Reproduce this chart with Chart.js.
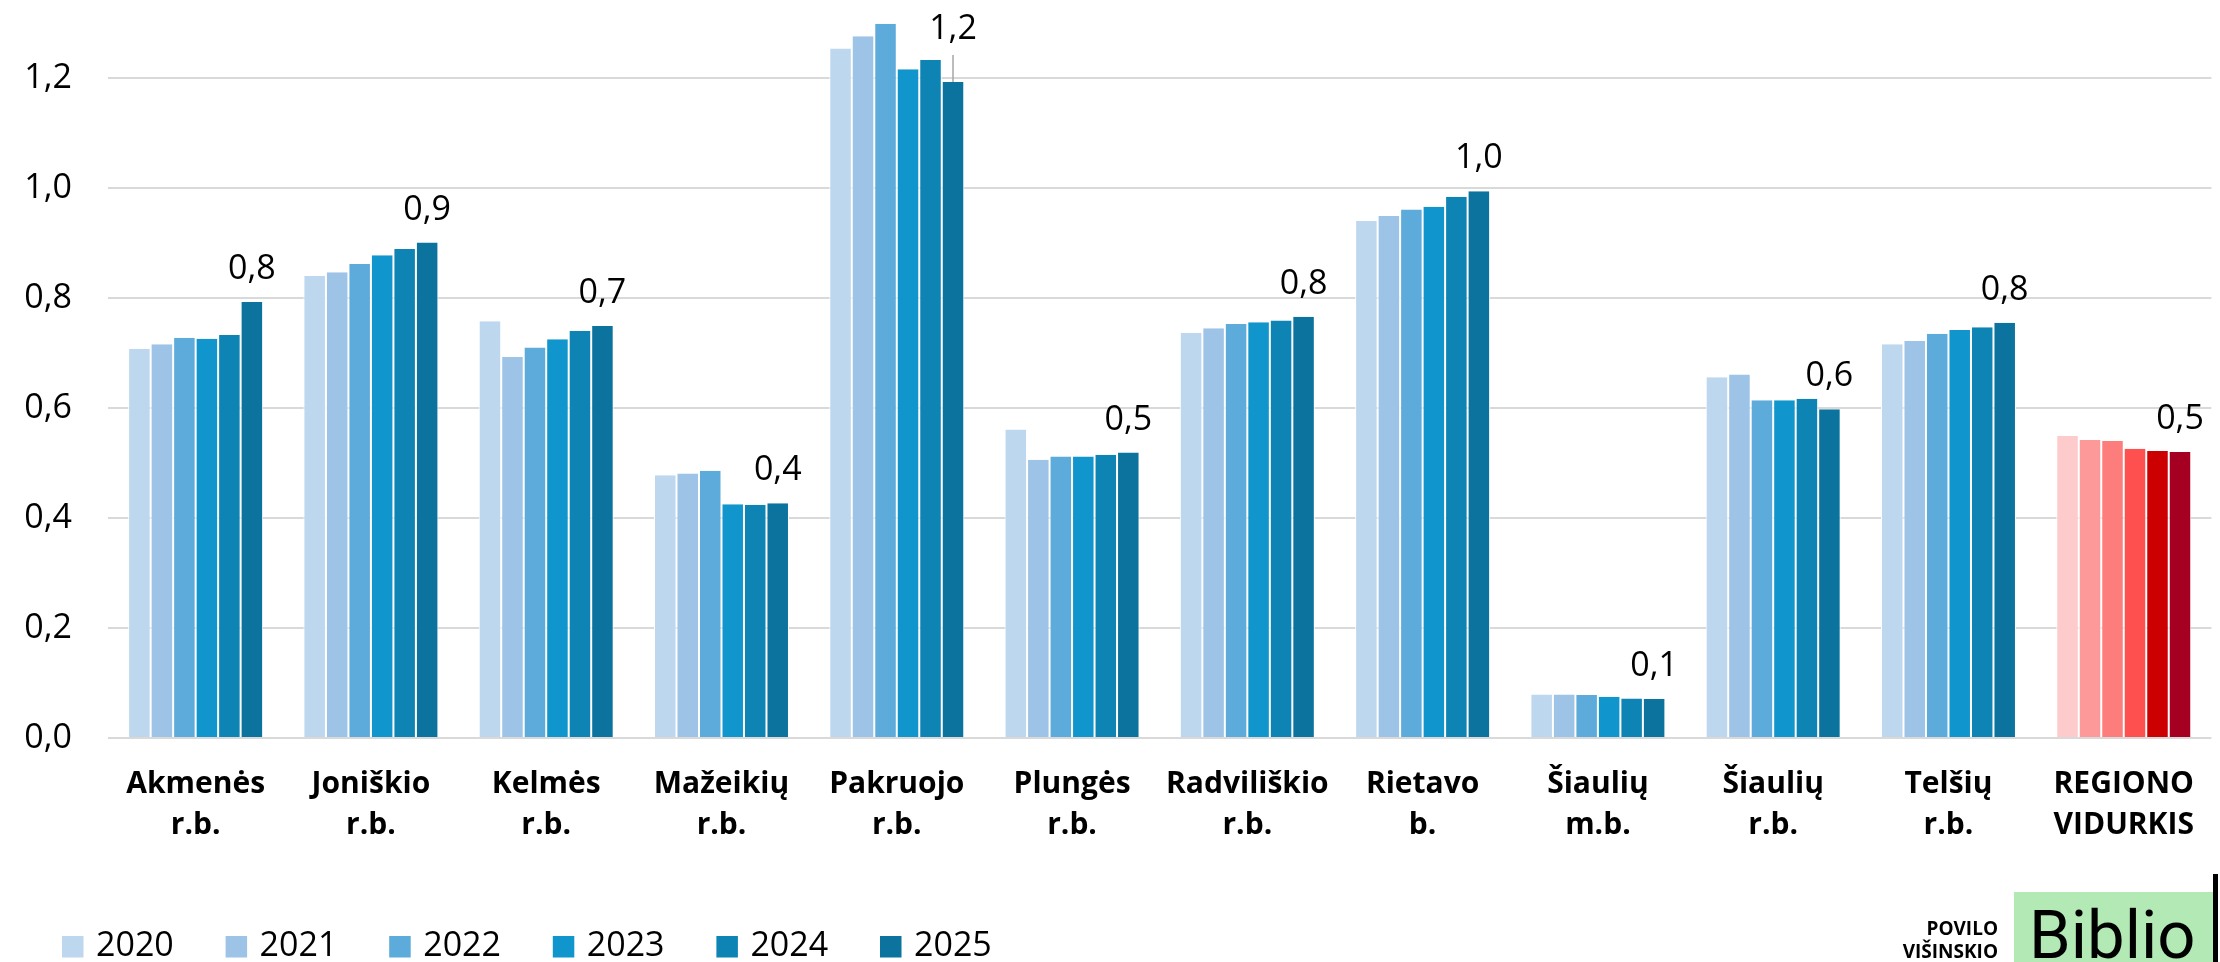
<!DOCTYPE html>
<html>
<head>
<meta charset="utf-8">
<script src="https://cdn.jsdelivr.net/npm/chart.js@4.4.0/dist/chart.umd.min.js"></script>
<style>
  html, body { margin: 0; padding: 0; background: #fff; }
  #wrap { width: 2220px; height: 962px; }
</style>
</head>
<body>
<div id="wrap"><canvas id="chart" width="2220" height="962"></canvas></div>
<script>
var categories = [
    ['Akmenės', 'r.b.'], ['Joniškio', 'r.b.'], ['Kelmės', 'r.b.'], ['Mažeikių', 'r.b.'],
    ['Pakruojo', 'r.b.'], ['Plungės', 'r.b.'], ['Radviliškio', 'r.b.'], ['Rietavo', 'b.'],
    ['Šiaulių', 'm.b.'], ['Šiaulių', 'r.b.'], ['Telšių', 'r.b.'], ['REGIONO', 'VIDURKIS']
];
var years = ['2020', '2021', '2022', '2023', '2024', '2025'];

var values2020 = [0.708, 0.840, 0.758, 0.478, 1.254, 0.561, 0.737, 0.940, 0.079, 0.656, 0.716, 0.549];
var values2021 = [0.716, 0.847, 0.693, 0.481, 1.276, 0.506, 0.745, 0.949, 0.079, 0.661, 0.722, 0.542];
var values2022 = [0.728, 0.862, 0.710, 0.486, 1.299, 0.512, 0.753, 0.961, 0.078, 0.614, 0.735, 0.540];
var values2023 = [0.726, 0.878, 0.725, 0.425, 1.216, 0.512, 0.756, 0.966, 0.075, 0.614, 0.742, 0.526];
var values2024 = [0.733, 0.889, 0.740, 0.424, 1.233, 0.515, 0.759, 0.984, 0.072, 0.617, 0.747, 0.522];
var values2025 = [0.793, 0.901, 0.749, 0.427, 1.193, 0.519, 0.766, 0.994, 0.071, 0.598, 0.755, 0.520];

var yTickValues = [0, 0.2, 0.4, 0.6, 0.8, 1.0, 1.2];

var seriesValues = [values2020, values2021, values2022, values2023, values2024, values2025];
var blueShades = ['#bdd7ee', '#9dc3e6', '#5dabda', '#1096cc', '#0e84b4', '#0b739e'];
var redShades = ['#fdcbcb', '#fe9999', '#fd7c7c', '#ff5050', '#cc0000', '#a50021'];

var FONT = '"Open Sans", "Liberation Sans", sans-serif';

function fmt(v) {
    return v.toFixed(1).replace('.', ',');
}

// label of Pakruojo is pushed up with a leader line, like in the original
var liftedLabel = { 4: 20 };

var valueLabels = {
    id: 'valueLabels',
    afterDatasetsDraw: function (chart) {
        var ctx = chart.ctx;
        var last = chart.data.datasets.length - 1;
        var meta = chart.getDatasetMeta(last);
        ctx.save();
        ctx.font = '34px ' + FONT;
        ctx.textAlign = 'center';
        ctx.textBaseline = 'alphabetic';
        meta.data.forEach(function (bar, i) {
            var v = chart.data.datasets[last].data[i];
            var lift = liftedLabel[i] || 0;
            if (lift) {
                ctx.strokeStyle = '#a6a6a6';
                ctx.lineWidth = 1.5;
                ctx.beginPath();
                ctx.moveTo(bar.x, bar.y);
                ctx.lineTo(bar.x, bar.y - 27);
                ctx.stroke();
            }
            ctx.fillStyle = '#000';
            ctx.fillText(fmt(v), bar.x, bar.y - 23 - lift);
        });
        ctx.restore();
    }
};

var legendAndLogo = {
    id: 'legendAndLogo',
    afterDraw: function (chart) {
        var ctx = chart.ctx;
        ctx.save();
        // legend
        ctx.font = '34px ' + FONT;
        ctx.textBaseline = 'alphabetic';
        ctx.textAlign = 'left';
        chart.data.datasets.forEach(function (ds, i) {
            var x = 62 + i * 163.6;
            ctx.fillStyle = ds.backgroundColor[0];
            ctx.fillRect(x, 936, 21.5, 21.5);
            ctx.fillStyle = '#000';
            ctx.fillText(ds.label, x + 34, 956);
        });
        // logo
        ctx.fillStyle = '#b2e9b4';
        ctx.fillRect(2014, 892, 199, 70);
        ctx.fillStyle = '#000';
        ctx.fillRect(2213, 874, 5, 88);
        ctx.font = '67px Roboto, ' + FONT;
        ctx.fillText('Biblio', 2029, 958);
        ctx.font = 'bold 19px ' + FONT;
        ctx.textAlign = 'right';
        ctx.fillText('POVILO', 1998, 935);
        ctx.fillText('VIŠINSKIO', 1998, 957.5);
        ctx.restore();
    }
};

var datasets = years.map(function (year, i) {
    return {
        label: year,
        data: seriesValues[i],
        backgroundColor: categories.map(function (c, j) {
            return j === categories.length - 1 ? redShades[i] : blueShades[i];
        }),
        borderColor: '#ffffff',
        borderWidth: { left: 1, right: 1, top: 0, bottom: 0 },
        categoryPercentage: 0.77,
        barPercentage: 1.0
    };
});

Chart.defaults.font.family = FONT;
Chart.defaults.color = '#000';

new Chart(document.getElementById('chart'), {
    type: 'bar',
    data: {
        labels: categories,
        datasets: datasets
    },
    options: {
        responsive: false,
        animation: false,
        layout: { padding: 0 },
        plugins: {
            legend: { display: false },
            tooltip: { enabled: false }
        },
        scales: {
            x: {
                grid: { display: false, drawTicks: false },
                border: { display: false },
                ticks: {
                    color: '#000',
                    font: { size: 30, weight: 'bold', lineHeight: '41px' },
                    padding: 26,
                    maxRotation: 0,
                    autoSkip: false
                },
                afterFit: function (scale) { scale.height = 224; }
            },
            y: {
                min: 0,
                max: 1.342,
                afterBuildTicks: function (scale) {
                    scale.ticks = yTickValues.map(function (v) { return { value: v }; });
                },
                afterFit: function (scale) {
                    scale.width = 108;
                    scale.paddingTop = 0;
                },
                grid: { color: '#d9d9d9', lineWidth: 2, drawTicks: false },
                border: { display: false },
                ticks: {
                    color: '#000',
                    font: { size: 34 },
                    padding: 36,
                    callback: function (v) { return fmt(v); }
                }
            }
        }
    },
    plugins: [valueLabels, legendAndLogo]
});
</script>
</body>
</html>
